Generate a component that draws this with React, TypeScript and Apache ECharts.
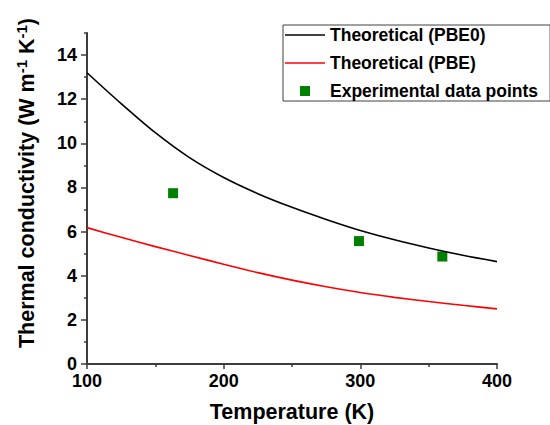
import React, { useEffect, useRef } from "react";
import * as echarts from "echarts";

const temperatures = [100, 125, 150, 175, 200, 225, 250, 275, 300, 325, 350, 375, 400];
const pbe0Values = [13.2, 11.8, 10.48, 9.35, 8.45, 7.72, 7.1, 6.55, 6.05, 5.63, 5.26, 4.93, 4.64];
const pbeValues = [6.18, 5.74, 5.32, 4.92, 4.52, 4.14, 3.8, 3.5, 3.24, 3.02, 2.83, 2.66, 2.5];
const expTemps = [163, 299, 360];
const expValues = [7.74, 5.57, 4.87];

const xMajorTicks = [100, 200, 300, 400];
const xMinorTicks = [150, 250, 350];
const yMajorTicks = [0, 2, 4, 6, 8, 10, 12, 14];
const yMinorTicks = [1, 3, 5, 7, 9, 11, 13, 15];

const seriesNames = ["Theoretical (PBE0)", "Theoretical (PBE)", "Experimental data points"];

const FONT = "'Liberation Sans', Arial, sans-serif";
const AXIS_COLOR = "#3c3c3c";

export default function App() {
  const ref = useRef<HTMLDivElement>(null);
  useEffect(() => {
    if (!ref.current) return;
    const chart = echarts.init(ref.current, null, { renderer: "svg" });
    const zip = (xs: number[], ys: number[]) => xs.map((x, i) => [x, ys[i]]);
    const baseX = {
      type: "value" as const,
      min: 100,
      max: 400,
      splitLine: { show: false },
    };
    const baseY = {
      type: "value" as const,
      min: 0,
      max: 15,
      splitLine: { show: false },
    };
    const lineIcon = "path://M0,0L40,0L40,1.6L0,1.6Z";
    const squareIcon = "path://M0,0L10,0L10,10L0,10Z";
    chart.setOption({
      animation: false,
      backgroundColor: "#ffffff",
      textStyle: { fontFamily: FONT },
      grid: { left: 87, right: 53, top: 33, bottom: 61, containLabel: false, outerBoundsMode: "none" },
      xAxis: [
        {
          ...baseX,
          position: "bottom",
          axisLine: { show: true, lineStyle: { color: AXIS_COLOR, width: 2 } },
          axisTick: { show: true, length: 5, customValues: xMajorTicks, lineStyle: { color: AXIS_COLOR, width: 1.5 } },
          axisLabel: {
            customValues: xMajorTicks,
            margin: 8,
            fontSize: 18,
            fontWeight: "bold",
            color: "#000",
            fontFamily: FONT,
          },
          name: "Temperature (K)",
          nameLocation: "middle",
          nameGap: 37,
          nameTextStyle: { fontSize: 21.5, fontWeight: "bold", color: "#000", fontFamily: FONT },
        },
        {
          ...baseX,
          position: "bottom",
          axisLine: { show: false },
          axisTick: { show: true, length: 3, customValues: xMinorTicks, lineStyle: { color: AXIS_COLOR, width: 1.5 } },
          axisLabel: { show: false },
        },
      ],
      yAxis: [
        {
          ...baseY,
          position: "left",
          axisLine: { show: true, lineStyle: { color: AXIS_COLOR, width: 2 } },
          axisTick: { show: true, length: 6, customValues: yMajorTicks, lineStyle: { color: AXIS_COLOR, width: 1.5 } },
          axisLabel: {
            customValues: yMajorTicks,
            margin: 10,
            fontSize: 18,
            fontWeight: "bold",
            color: "#000",
            fontFamily: FONT,
          },
        },
        {
          ...baseY,
          position: "left",
          axisLine: { show: false },
          axisTick: { show: true, length: 3, customValues: yMinorTicks, lineStyle: { color: AXIS_COLOR, width: 1.5 } },
          axisLabel: { show: false },
        },
      ],
      legend: {
        orient: "vertical",
        left: 283,
        top: 25,
        itemWidth: 40,
        itemHeight: 10,
        itemGap: 10,
        padding: [1, 12, 1, 2],
        borderColor: "#404040",
        borderWidth: 1,
        borderRadius: 0,
        backgroundColor: "#ffffff",
        textStyle: { fontSize: 17.5, fontWeight: "bold", color: "#000", fontFamily: FONT },
        data: [
          { name: seriesNames[0], icon: lineIcon },
          { name: seriesNames[1], icon: lineIcon },
          { name: seriesNames[2], icon: squareIcon },
        ],
      },
      graphic: [
        {
          type: "text",
          x: 27,
          y: 183,
          rotation: Math.PI / 2,
          style: {
            text: "{a|Thermal conductivity (W m}{s|-1}{a| K}{s|-1}{a|)}",
            align: "center",
            verticalAlign: "middle",
            fill: "#000",
            rich: {
              a: { fontSize: 21.5, fontWeight: "bold", fontFamily: FONT, fill: "#000", lineHeight: 26 },
              s: { fontSize: 15, fontWeight: "bold", fontFamily: FONT, fill: "#000", lineHeight: 26, verticalAlign: "top" },
            },
          },
        },
      ],
      series: [
        {
          name: seriesNames[0],
          type: "line",
          data: zip(temperatures, pbe0Values),
          smooth: 0.3,
          symbol: "none",
          lineStyle: { color: "#000000", width: 1.6 },
          itemStyle: { color: "#000000" },
        },
        {
          name: seriesNames[1],
          type: "line",
          data: zip(temperatures, pbeValues),
          smooth: 0.3,
          symbol: "none",
          lineStyle: { color: "#ff0000", width: 1.6 },
          itemStyle: { color: "#ff0000" },
        },
        {
          name: seriesNames[2],
          type: "scatter",
          data: zip(expTemps, expValues),
          symbol: "rect",
          symbolSize: 10,
          itemStyle: { color: "#008000", opacity: 1 },
        },
      ],
    });
    return () => chart.dispose();
  }, []);
  return <div ref={ref} style={{ width: 550, height: 425, position: "absolute", left: 0, top: 0 }} />;
}
